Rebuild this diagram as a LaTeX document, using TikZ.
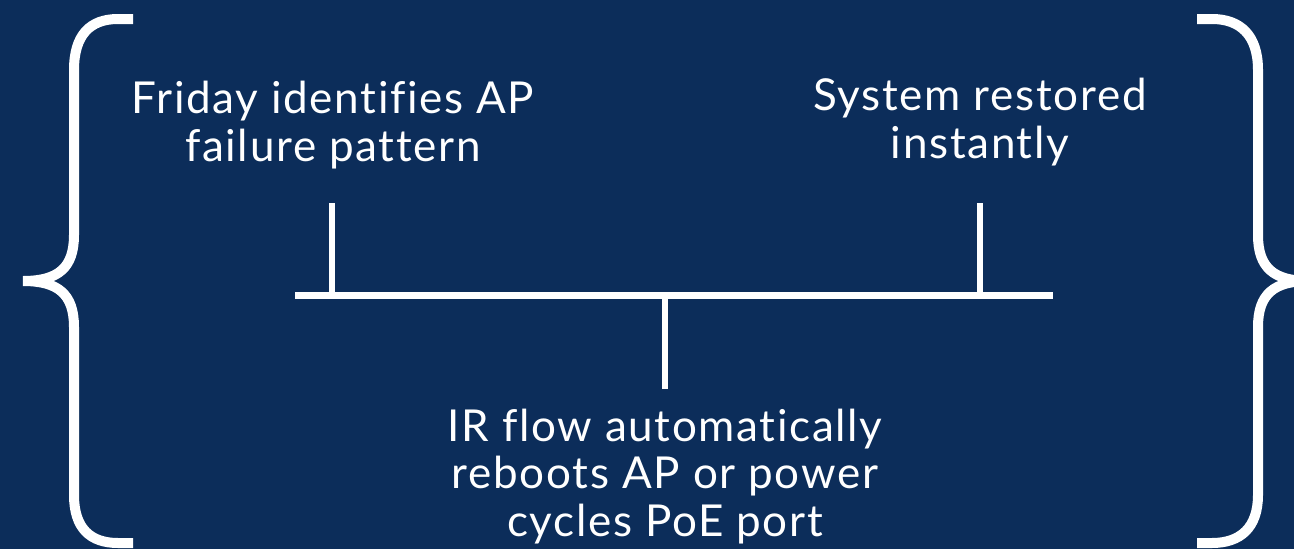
\documentclass[tikz,border=0pt]{standalone}
\usepackage{fontspec}
\setmainfont{Lato}[Ligatures=NoCommon, LetterSpace=3.8]
\definecolor{navy}{RGB}{12,45,90}
\tikzset{
  lbl/.style={text=white, align=center, anchor=base, inner sep=0pt,
    font=\fontsize{44}{47.5}\selectfont},
  brace/.style={draw=white, line width=10pt},
  bar/.style={draw=white, line width=7.5pt},
  tick/.style={draw=white, line width=5.5pt}
}
\begin{document}
\begin{tikzpicture}[x=1pt,y=-1pt]
\fill[navy] (0,0) rectangle (1294,549);
\useasboundingbox (0,0) rectangle (1294,549);
% braces
\draw[brace] (133,19) -- (118,19) .. controls (90,19) and (74,35) .. (74,70)
  -- (74,235) .. controls (74,268) and (58,281) .. (23,281)
  .. controls (58,281) and (74,294) .. (74,327)
  -- (74,495) .. controls (74,528) and (90,543) .. (118,543) -- (133,543);
\draw[brace] (1197,19) -- (1212,19) .. controls (1240,19) and (1258,35) .. (1258,70)
  -- (1258,235) .. controls (1258,268) and (1274,281) .. (1309,281)
  .. controls (1274,281) and (1258,294) .. (1258,327)
  -- (1258,495) .. controls (1258,528) and (1240,543) .. (1212,543) -- (1197,543);
% labels (base anchor = baseline of last line)
\node[lbl] (a) at (333,161) {Friday identifies AP\\failure pattern};
\node[lbl] (b) at (980,158) {System restored\\instantly};
\node[lbl] (c) at (665,536) {IR flow automatically\\reboots AP or power\\cycles PoE port};
% timeline
\coordinate (hl) at (295,295.5);
\coordinate (hr) at (1053,295.5);
\coordinate (ta) at (332,203);
\coordinate (tb) at (980,203);
\coordinate (tc) at (665,389);
\draw[bar] (hl) -- (hr);
\draw[tick] (ta) -- (ta |- hl);
\draw[tick] (tb) -- (tb |- hl);
\draw[tick] (tc) -- (tc |- hl);
\end{tikzpicture}
\end{document}
